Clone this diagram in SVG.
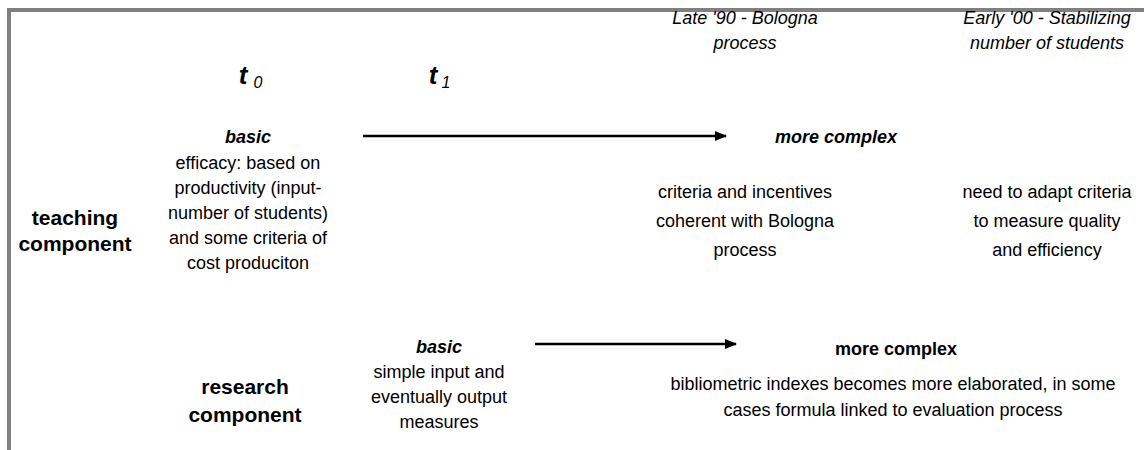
<svg xmlns="http://www.w3.org/2000/svg" width="1144" height="450" viewBox="0 0 1144 450">
<defs>
<marker id="ah" markerWidth="12" markerHeight="10" refX="11" refY="5" orient="auto" markerUnits="userSpaceOnUse">
<path d="M0,0 L12,5 L0,10 Z" fill="#000"/>
</marker>
<style>
text{font-family:"Liberation Sans",Arial,sans-serif;fill:#000;text-anchor:middle}
.b{font-size:18px}
.i{font-size:18px;font-style:italic}
.bi{font-size:18px;font-style:italic;font-weight:bold}
.h{font-size:21px;font-weight:bold}
.t{font-size:26px;font-style:italic;font-weight:bold}
.s{font-size:16px;font-style:italic}
.c{stroke:#000;stroke-width:2.5;fill:none}
</style>
</defs>
<rect width="1144" height="450" fill="#fff"/>
<path d="M9,452 V10 H1146" fill="none" stroke="#808080" stroke-width="4"/>
<g id="header-t0"><text x="243" y="84" class="t">t</text><text x="258" y="88" class="s">0</text></g>
<g id="header-t1"><text x="433" y="84" class="t">t</text><text x="446" y="88" class="s">1</text></g>
<g id="header-late90"><text x="745" y="24" class="i">Late '90 -  Bologna</text><text x="745" y="49" class="i">process</text></g>
<g id="header-early00"><text x="1047" y="24" class="i">Early '00 - Stabilizing</text><text x="1047" y="49" class="i">number of students</text></g>
<g id="row-teaching"><text x="75" y="225" class="h">teaching</text><text x="75" y="251" class="h">component</text></g>
<g id="teaching-basic">
<text x="248" y="143" class="bi">basic</text>
<text x="248" y="169" class="b">efficacy: based on</text>
<text x="248" y="194" class="b">productivity (input-</text>
<text x="248" y="219" class="b">number of students)</text>
<text x="248" y="244" class="b">and some criteria of</text>
<text x="248" y="269" class="b">cost produciton</text>
</g>
<g id="teaching-complex"><text x="836" y="143" class="bi">more complex</text></g>
<g id="teaching-bologna">
<text x="745" y="198" class="b">criteria and incentives</text>
<text x="745" y="227" class="b">coherent with Bologna</text>
<text x="745" y="256" class="b">process</text>
</g>
<g id="teaching-early00">
<text x="1047" y="198" class="b">need to adapt criteria</text>
<text x="1047" y="227" class="b">to measure quality</text>
<text x="1047" y="256" class="b">and efficiency</text>
</g>
<g id="row-research"><text x="245" y="394" class="h">research</text><text x="245" y="422" class="h">component</text></g>
<g id="research-basic">
<text x="439" y="353" class="bi">basic</text>
<text x="439" y="378" class="b">simple input and</text>
<text x="439" y="403" class="b">eventually output</text>
<text x="439" y="428" class="b">measures</text>
</g>
<g id="research-complex">
<text x="896" y="355" class="h" style="font-size:18px">more complex</text>
<text x="893" y="390" class="b">bibliometric indexes becomes more elaborated, in some</text>
<text x="893" y="416" class="b">cases formula linked to evaluation process</text>
</g>
<g id="connectors">
<line x1="363" y1="136" x2="726" y2="136" class="c" marker-end="url(#ah)"/>
<line x1="535" y1="344" x2="736" y2="344" class="c" marker-end="url(#ah)"/>
</g>
</svg>
